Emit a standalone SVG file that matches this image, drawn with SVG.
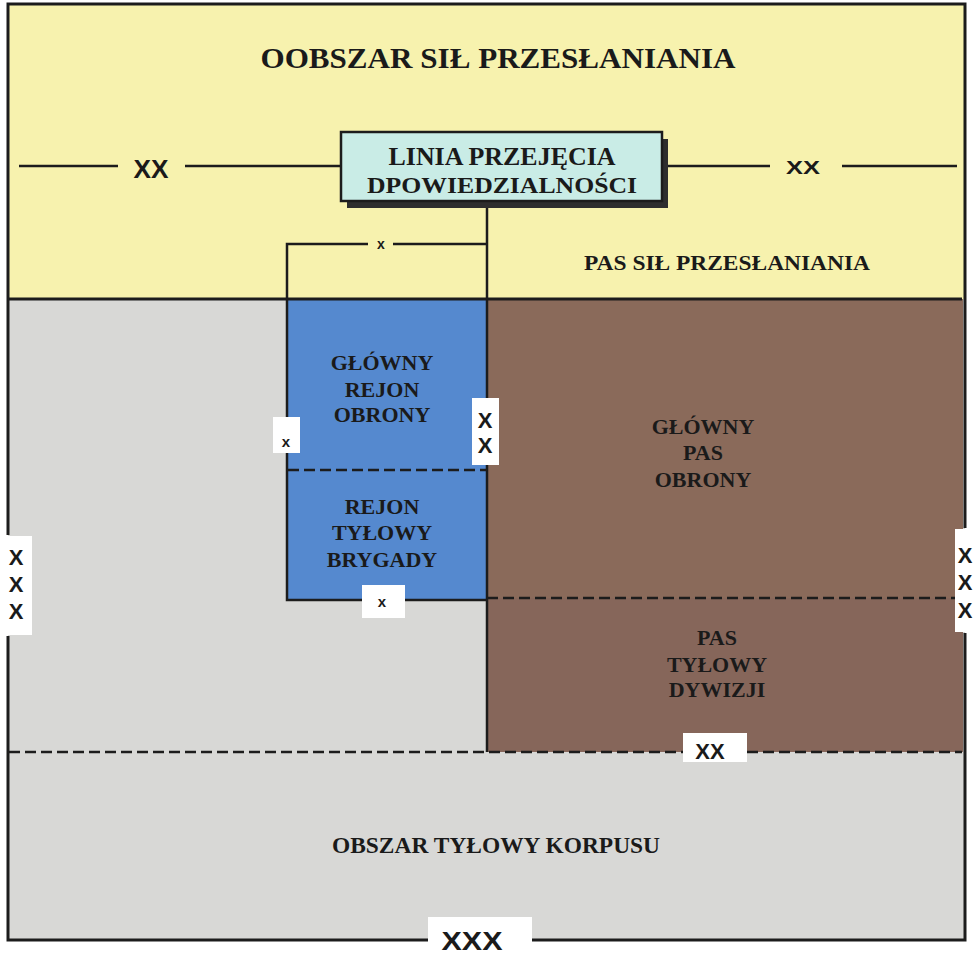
<svg xmlns="http://www.w3.org/2000/svg" width="974" height="958" viewBox="0 0 974 958">
<style>
.ser{font-family:"Liberation Serif","Times New Roman",serif;font-weight:bold;fill:#1a1a1a;text-anchor:middle}
.san{font-family:"Liberation Sans",Arial,sans-serif;font-weight:bold;fill:#1a1a1a;text-anchor:middle}
.ln{stroke:#1c1c1c;stroke-width:3;fill:none}
.thin{stroke:#1c1c1c;stroke-width:2.5;fill:none}
.dash{stroke:#1c1c1c;stroke-width:2.5;fill:none;stroke-dasharray:11 5}
.wb{fill:#ffffff}
</style>
<rect width="974" height="958" fill="#ffffff"/>
<g id="cover-area">
<rect x="8" y="4" width="957" height="295" fill="#f7f2ae"/>
<text class="ser" x="498" y="68" font-size="30" textLength="475" lengthAdjust="spacingAndGlyphs">OOBSZAR SIŁ PRZESŁANIANIA</text>
<text class="ser" x="727" y="270" font-size="20" textLength="286" lengthAdjust="spacingAndGlyphs">PAS SIŁ PRZESŁANIANIA</text>
</g>
<g id="corps-rear">
<rect x="8" y="299" width="957" height="641" fill="#d8d8d6"/>
<text class="ser" x="496" y="853" font-size="24" textLength="328" lengthAdjust="spacingAndGlyphs">OBSZAR TYŁOWY KORPUSU</text>
</g>
<g id="division-main">
<rect x="486" y="299" width="477" height="299" fill="#8a6a5a"/>
<text class="ser" x="703" y="434" font-size="22">GŁÓWNY</text>
<text class="ser" x="703" y="460" font-size="22">PAS</text>
<text class="ser" x="703" y="487" font-size="22">OBRONY</text>
</g>
<g id="division-rear">
<rect x="486" y="598" width="477" height="154" fill="#86665a"/>
<text class="ser" x="717" y="645" font-size="22">PAS</text>
<text class="ser" x="717" y="672" font-size="22">TYŁOWY</text>
<text class="ser" x="717" y="697" font-size="22">DYWIZJI</text>
</g>
<g id="brigade-main">
<rect x="287" y="299" width="199" height="171" fill="#5589cf"/>
<text class="ser" x="382" y="370" font-size="22">GŁÓWNY</text>
<text class="ser" x="382" y="397" font-size="22">REJON</text>
<text class="ser" x="382" y="422" font-size="22">OBRONY</text>
</g>
<g id="brigade-rear">
<rect x="287" y="470" width="199" height="130" fill="#5589cf"/>
<text class="ser" x="382" y="514" font-size="22">REJON</text>
<text class="ser" x="382" y="540" font-size="22">TYŁOWY</text>
<text class="ser" x="382" y="567" font-size="22">BRYGADY</text>
</g>
<g id="handover-line">
<rect x="347" y="139" width="321" height="69" fill="#2e2e2e"/>
<rect x="341" y="132" width="321" height="69" fill="#c9ece6" stroke="#1c1c1c" stroke-width="2.5"/>
<text class="ser" x="502" y="165" font-size="25" textLength="227" lengthAdjust="spacingAndGlyphs">LINIA PRZEJĘCIA</text>
<text class="ser" x="502" y="193" font-size="24" textLength="270" lengthAdjust="spacingAndGlyphs">DPOWIEDZIALNOŚCI</text>
</g>
<g id="connectors">
<path class="ln" d="M8 535 V4 H965 V528"/>
<path class="ln" d="M8 636 V940 H428"/>
<path class="ln" d="M532 940 H965 V633"/>
<path class="ln" d="M8 299 H962"/>
<path class="thin" d="M19 166 H118 M185 166 H341 M668 166 H770 M842 166 H957"/>
<path class="thin" d="M487 208 V398 M487 465 V752"/>
<path class="thin" d="M487 244 H393 M368 244 H287 V417 M287 453 V600 H362 M405 600 H486"/>
<path class="dash" d="M288 470 H486"/>
<path class="dash" d="M487 598 H962"/>
<path class="dash" d="M9 752 H683 M747 752 H962"/>
</g>
<g id="labels">
<text class="san" x="151" y="178" font-size="25" textLength="35" lengthAdjust="spacingAndGlyphs">XX</text>
<text class="san" x="803" y="174" font-size="19" textLength="34" lengthAdjust="spacingAndGlyphs">XX</text>
<text class="san" x="381" y="249" font-size="14">x</text>
<rect class="wb" x="273" y="417" width="27" height="36"/>
<text class="san" x="286" y="447" font-size="15">x</text>
<rect class="wb" x="472" y="398" width="27" height="67"/>
<text class="san" x="485" y="428" font-size="22">X</text>
<text class="san" x="485" y="453" font-size="22">X</text>
<rect class="wb" x="362" y="585" width="43" height="33"/>
<text class="san" x="382" y="607" font-size="15">x</text>
<rect class="wb" x="683" y="733" width="64" height="29"/>
<text class="san" x="710" y="759" font-size="22">XX</text>
<rect class="wb" x="0" y="536" width="32" height="99"/>
<text class="san" x="16" y="565" font-size="22">X</text>
<text class="san" x="16" y="592" font-size="22">X</text>
<text class="san" x="16" y="619" font-size="22">X</text>
<rect class="wb" x="955" y="529" width="19" height="103"/>
<text class="san" x="965" y="563" font-size="22">X</text>
<text class="san" x="965" y="590" font-size="22">X</text>
<text class="san" x="965" y="618" font-size="22">X</text>
<rect class="wb" x="428" y="917" width="104" height="41"/>
<text class="san" x="472" y="950" font-size="25" textLength="61" lengthAdjust="spacingAndGlyphs">XXX</text>
</g>
</svg>
